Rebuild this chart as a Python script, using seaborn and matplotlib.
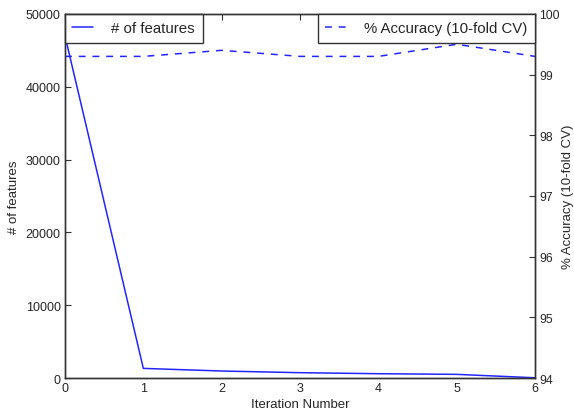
import matplotlib
matplotlib.use("Agg")
import matplotlib.pyplot as plt
import seaborn as sns
import pandas as pd

iterations = [0, 1, 2, 3, 4, 5, 6]
num_features = [47000, 1320, 960, 730, 590, 500, 30]
accuracy = [99.3, 99.3, 99.4, 99.3, 99.3, 99.5, 99.3]

sns.set_style("white")
plt.rcParams['font.family'] = ['Liberation Sans', 'DejaVu Sans']
plt.rcParams['xtick.direction'] = 'in'
plt.rcParams['ytick.direction'] = 'in'

df = pd.DataFrame({"iter": iterations, "features": num_features, "acc": accuracy})

fig = plt.figure(figsize=(5.74, 4.10), dpi=100)
ax = fig.add_axes([0.1132, 0.0756, 0.819, 0.888])
ax2 = ax.twinx()

col = '#2424ff'
sns.lineplot(data=df, x="iter", y="features", ax=ax, color=col, lw=1.1, label="# of features")
sns.lineplot(data=df, x="iter", y="acc", ax=ax2, color=col, lw=1.1, label="% Accuracy (10-fold CV)")
ax2.lines[0].set_dashes((4.5, 4.5))

ax.set_xlim(0, 6)
ax.set_ylim(0, 50000)
ax2.set_ylim(94, 100)
ax.set_xticks(range(0, 7))
ax.set_yticks(range(0, 50001, 10000))
ax2.set_yticks(range(94, 101))
ax.set_xlabel("Iteration Number", fontsize=9.5, labelpad=3)
ax.set_ylabel("# of features", fontsize=9.5)
ax2.set_ylabel("% Accuracy (10-fold CV)", fontsize=9.5)
ax.yaxis.set_label_coords(-0.096, 0.5)
ax2.yaxis.set_label_coords(1.0576, 0.5)

for a in (ax, ax2):
    a.tick_params(labelsize=9, length=4, width=0.8, color='#333333', pad=3, direction='in')
    for s in a.spines.values():
        s.set_color('#333333')
        s.set_linewidth(1.0)
ax.tick_params(top=True, right=False)
ax2.tick_params(left=False, right=True, labelsize=8.7)

for a, loc in ((ax, 'upper left'), (ax2, 'upper right')):
    leg = a.legend(loc=loc, borderaxespad=0, fancybox=False, fontsize=10.8,
                   handlelength=1.4, handletextpad=1.2, borderpad=0.5, framealpha=1)
    leg.get_frame().set_edgecolor('#333333')
    leg.get_frame().set_linewidth(1.0)
    for h in leg.get_lines():
        h.set_linewidth(1.1)
leg.get_lines()[0].set_dashes((4.5, 4.5))

fig.savefig("out.png", dpi=100)
